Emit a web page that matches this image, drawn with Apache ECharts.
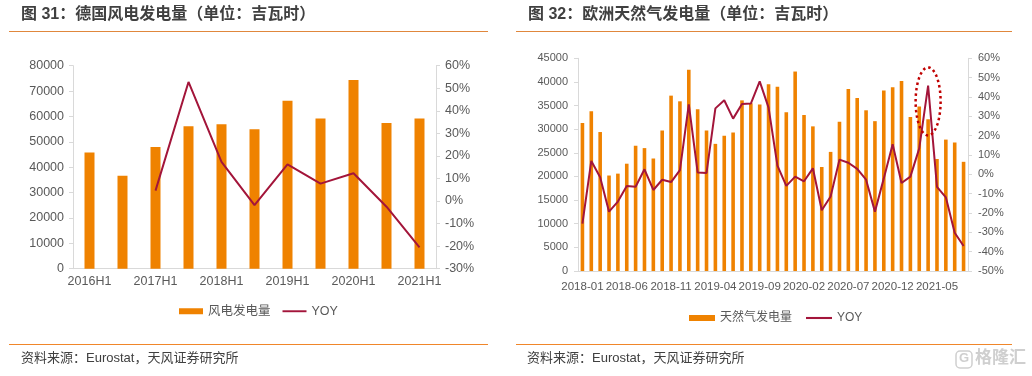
<!DOCTYPE html>
<html>
<head>
<meta charset="utf-8">
<script src="https://cdn.jsdelivr.net/npm/echarts@6/dist/echarts.min.js"></script>
<style>
  html, body { margin: 0; padding: 0; background: #fff; }
  #main { width: 1032px; height: 376px; }
</style>
</head>
<body>
<div id="main"></div>
<script>
// 图31 德国风电发电量（半年）
const windCats = ['2016H1', '2016H2', '2017H1', '2017H2', '2018H1', '2018H2', '2019H1', '2019H2', '2020H1', '2020H2', '2021H1']
const windGen = [45800, 36600, 48000, 56100, 56900, 55000, 66200, 59200, 74400, 57400, 59200]
const windYoy = [null, null, 4.6, 52.8, 17.4, -1.8, 16.3, 7.7, 12.3, -2.5, -20.5]

// 图32 欧洲天然气发电量（月度）
const gasMonths = [
  '2018-01', '2018-02', '2018-03', '2018-04', '2018-05', '2018-06', '2018-07', '2018-08', '2018-09', '2018-10', '2018-11', '2018-12',
  '2019-01', '2019-02', '2019-03', '2019-04', '2019-05', '2019-06', '2019-07', '2019-08', '2019-09', '2019-10', '2019-11', '2019-12',
  '2020-01', '2020-02', '2020-03', '2020-04', '2020-05', '2020-06', '2020-07', '2020-08', '2020-09', '2020-10', '2020-11', '2020-12',
  '2021-01', '2021-02', '2021-03', '2021-04', '2021-05', '2021-06', '2021-07', '2021-08'
]
const gasGen = [
  31300, 33800, 29400, 20200, 20600, 22700, 26500, 26000, 23800, 29700, 37100, 35900,
  42600, 34200, 29700, 26900, 28600, 29300, 36100, 35500, 35200, 39500, 39000, 33600,
  42200, 33000, 30600, 22000, 25200, 31600, 38500, 36600, 34000, 31700, 38200, 38900,
  40200, 32600, 34800, 32100, 23700, 27800, 27200, 23100
]
const gasYoy = [
  -25.5, 6.9, -1.5, -19.3, -14.1, -6.0, -6.4, 2.6, -8.1, -2.8, -4.0, 2.2,
  36.2, 1.0, 0.7, 34.1, 38.3, 28.8, 36.4, 36.6, 48.1, 34.5, 4.5, -6.0,
  -1.2, -3.6, 3.1, -18.6, -11.5, 7.6, 6.0, 2.8, -2.8, -19.3, -2.1, 15.5,
  -4.5, -1.2, 13.4, 45.9, -6.5, -11.9, -30.2, -37.1
]

const ORANGE = '#EF8200'
const LINE_RED = '#A3153A'
const AXIS_GRAY = '#D9D9D9'
const LABEL_GRAY = '#595959'
const FONT = '"Liberation Sans", "Noto Sans CJK SC", sans-serif'
const LINE_ICON = 'path://M0,0H25V2H0Z'

const myChart = echarts.init(document.getElementById('main'))

const yAxisBase = (gridIndex, min, max, interval, fmt, margin, size) => ({
  type: 'value',
  gridIndex: gridIndex,
  min: min,
  max: max,
  interval: interval,
  splitLine: { show: false },
  axisLine: { show: true, lineStyle: { color: AXIS_GRAY } },
  axisTick: { show: true, length: 4, lineStyle: { color: AXIS_GRAY } },
  axisLabel: { color: LABEL_GRAY, fontSize: size, margin: margin, formatter: fmt }
})
const plain = (v) => String(v)
const pct = (v) => v + '%'

const option = {
  animation: false,
  textStyle: { fontFamily: FONT },
  grid: [
    { left: 73, top: 65.7, width: 363, height: 203 },
    { left: 578, top: 58.3, width: 390, height: 212.7 }
  ],
  legend: [
    {
      left: 174, top: 300,
      itemWidth: 24, itemHeight: 6, itemGap: 12, symbolKeepAspect: true,
      textStyle: { color: LABEL_GRAY, fontSize: 12.5 },
      data: [{ name: '风电发电量', icon: 'rect' }, { name: 'YOY', icon: LINE_ICON }]
    },
    {
      left: 684, top: 307,
      itemWidth: 26, itemHeight: 6, itemGap: 14, symbolKeepAspect: true,
      textStyle: { color: LABEL_GRAY, fontSize: 12 },
      data: [{ name: '天然气发电量', icon: 'rect' }, { name: 'YOY ', icon: LINE_ICON }]
    }
  ],
  xAxis: [
    {
      type: 'category', gridIndex: 0, data: windCats,
      axisLine: { lineStyle: { color: AXIS_GRAY } },
      axisTick: { show: false },
      axisLabel: { interval: 1, color: LABEL_GRAY, fontSize: 12.5, margin: 7 }
    },
    {
      type: 'category', gridIndex: 1, data: gasMonths,
      axisLine: { lineStyle: { color: AXIS_GRAY } },
      axisTick: { show: false },
      axisLabel: { interval: 4, color: LABEL_GRAY, fontSize: 11.5, margin: 10 }
    }
  ],
  yAxis: [
    yAxisBase(0, 0, 80000, 10000, plain, 9, 12.5),
    Object.assign(yAxisBase(0, -30, 60, 10, pct, 9, 12.5), { position: 'right' }),
    yAxisBase(1, 0, 45000, 5000, plain, 10, 11),
    Object.assign(yAxisBase(1, -50, 60, 10, pct, 10, 11), { position: 'right' })
  ],
  series: [
    {
      name: '风电发电量', type: 'bar', xAxisIndex: 0, yAxisIndex: 0,
      barWidth: 10, itemStyle: { color: ORANGE }, data: windGen
    },
    {
      name: 'YOY', type: 'line', xAxisIndex: 0, yAxisIndex: 1,
      symbol: 'none', lineStyle: { color: LINE_RED, width: 2 }, itemStyle: { color: LINE_RED },
      data: windYoy
    },
    {
      name: '天然气发电量', type: 'bar', xAxisIndex: 1, yAxisIndex: 2,
      barWidth: 3.6, itemStyle: { color: ORANGE }, data: gasGen
    },
    {
      name: 'YOY ', type: 'line', xAxisIndex: 1, yAxisIndex: 3,
      symbol: 'none', lineStyle: { color: LINE_RED, width: 2 }, itemStyle: { color: LINE_RED },
      data: gasYoy
    }
  ]
}
myChart.setOption(option)

// 标注椭圆（2021-04 峰值），按坐标轴换算位置
const center = myChart.convertToPixel({ xAxisIndex: 1, yAxisIndex: 3 }, ['2021-04', 37.7])
const ellipsePts = []
for (let i = 0; i < 72; i++) {
  const a = (i / 72) * Math.PI * 2
  ellipsePts.push([center[0] + 12.5 * Math.cos(a), center[1] + 34 * Math.sin(a)])
}

const titleStyle = { fill: '#404040', fontSize: 16, fontWeight: 'bold', fontFamily: FONT }
const srcStyle = { fill: '#404040', fontSize: 13, fontFamily: FONT }

myChart.setOption({
  graphic: [
    { type: 'text', left: 21, top: 7, style: Object.assign({ text: '图 31：德国风电发电量（单位：吉瓦时）' }, titleStyle) },
    { type: 'text', left: 528, top: 7, style: Object.assign({ text: '图 32：欧洲天然气发电量（单位：吉瓦时）' }, titleStyle) },
    { type: 'line', shape: { x1: 9, y1: 31.5, x2: 488, y2: 31.5 }, style: { stroke: '#E0873C', lineWidth: 1 } },
    { type: 'line', shape: { x1: 516, y1: 31.5, x2: 1012, y2: 31.5 }, style: { stroke: '#E0873C', lineWidth: 1 } },
    { type: 'line', shape: { x1: 9, y1: 344.5, x2: 488, y2: 344.5 }, style: { stroke: '#F0862A', lineWidth: 1 } },
    { type: 'line', shape: { x1: 516, y1: 344.5, x2: 1012, y2: 344.5 }, style: { stroke: '#F0862A', lineWidth: 1 } },
    { type: 'text', left: 21, top: 352, style: Object.assign({ text: '资料来源：Eurostat，天风证券研究所' }, srcStyle) },
    { type: 'text', left: 527, top: 352, style: Object.assign({ text: '资料来源：Eurostat，天风证券研究所' }, srcStyle) },
    {
      type: 'polygon', shape: { points: ellipsePts }, z: 100,
      style: { fill: 'none', stroke: '#C00000', lineWidth: 2.5, lineDash: [2.5, 3] }
    },
    // 水印
    { type: 'rect', shape: { x: 956, y: 351, width: 16, height: 17, r: 4 }, style: { fill: 'none', stroke: '#CFCFCF', lineWidth: 1.5 } },
    { type: 'text', left: 959, top: 352, style: { text: 'G', fill: '#CFCFCF', fontSize: 13, fontWeight: 'bold', fontFamily: FONT } },
    { type: 'text', left: 975, top: 350, style: { text: '格隆汇', fill: '#CFCFCF', fontSize: 17, fontWeight: 'bold', fontFamily: FONT } }
  ]
})
</script>
</body>
</html>
